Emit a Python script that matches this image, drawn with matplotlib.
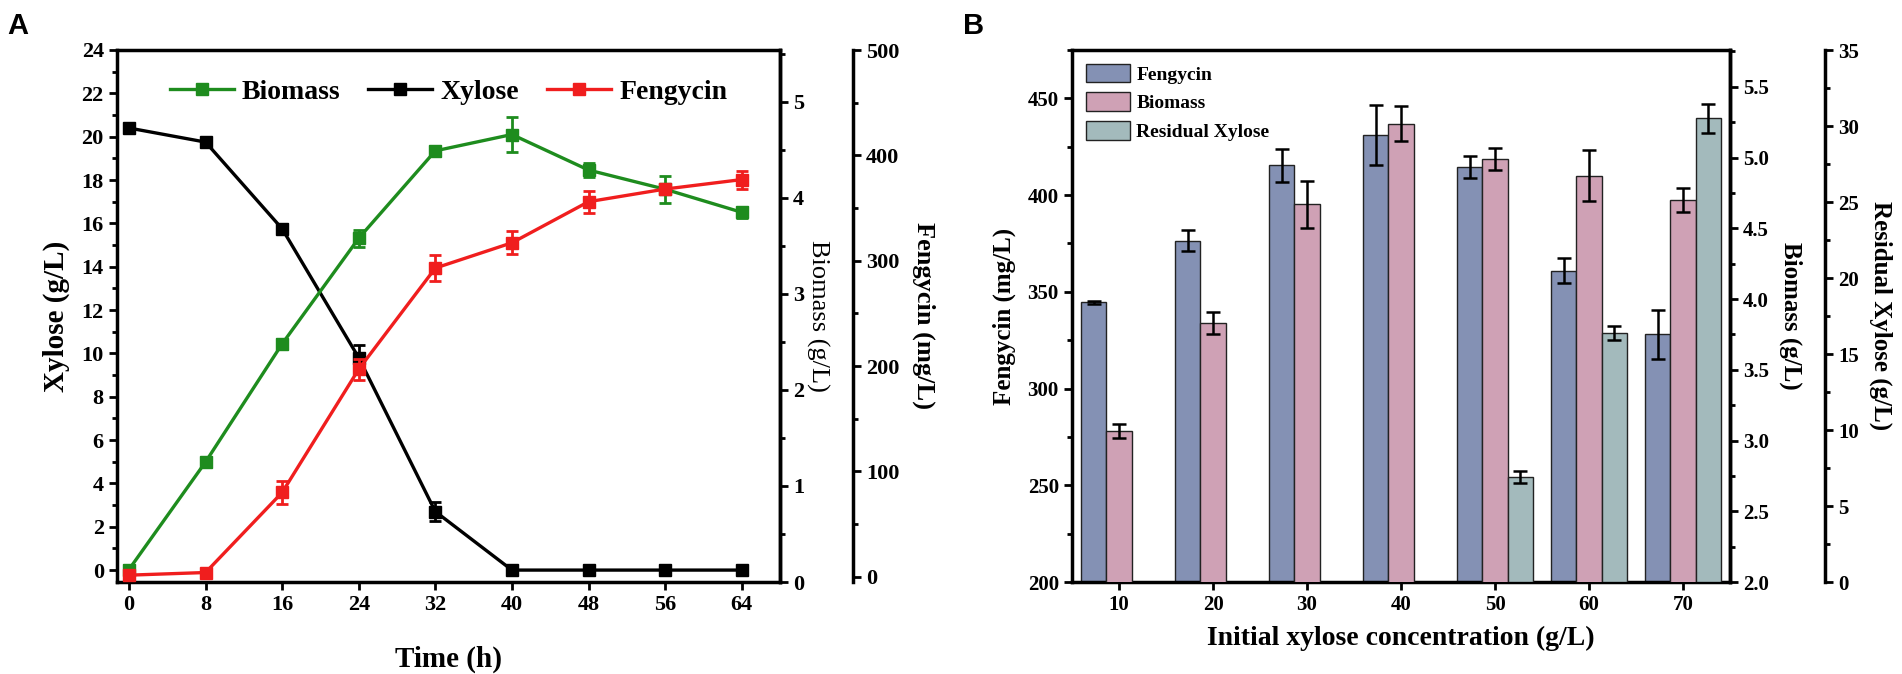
import numpy as np
import matplotlib
matplotlib.use("Agg")
from matplotlib import pyplot as plt
from matplotlib.ticker import MultipleLocator
from matplotlib.patches import Patch
from matplotlib.lines import Line2D

# panel A: time course
time_h = [0, 8, 16, 24, 32, 40, 48, 56, 64]
xylose = [20.4, 19.75, 15.75, 9.8, 2.7, 0.0, 0.0, 0.0, 0.0]
xylose_err = [0.1, 0.1, 0.2, 0.6, 0.45, 0.05, 0.05, 0.05, 0.05]
biomass = [0.13, 1.25, 2.48, 3.58, 4.49, 4.66, 4.29, 4.09, 3.85]
biomass_err = [0.05, 0.05, 0.05, 0.09, 0.05, 0.18, 0.07, 0.14, 0.06]
fengycin = [1.5, 4, 80, 197, 293, 317, 356, 368, 377]
fengycin_err = [1, 2, 11, 10, 12.5, 11, 10.5, 5, 8.5]

# panel B: initial xylose concentration
conc = [10, 20, 30, 40, 50, 60, 70]
fengycin_b = [344.5, 376.5, 415.3, 431, 414.5, 361, 328]
fengycin_b_err = [1, 5.3, 8.3, 15.5, 5.6, 6.5, 12.7]
biomass_b = [3.07, 3.83, 4.67, 5.24, 4.99, 4.87, 4.70]
biomass_b_err = [0.05, 0.08, 0.165, 0.125, 0.075, 0.18, 0.085]
residual_conc = [50, 60, 70]
residual_b = [6.9, 16.4, 30.5]
residual_b_err = [0.37, 0.45, 0.93]

GREEN = "#1e8c1e"
RED = "#f01e1e"
C_FENG = "#8491b4"
C_BIO = "#cfa1b5"
C_RES = "#a3babc"

plt.rcParams["font.family"] = ["Liberation Serif", "DejaVu Serif"]
plt.rcParams["font.weight"] = "bold"
plt.rcParams["axes.labelweight"] = "bold"
plt.rcParams["axes.linewidth"] = 2.5


def style_ticks(ax, size):
    ax.tick_params(which="major", direction="out", length=6, width=2,
                   labelsize=size)
    ax.tick_params(which="minor", direction="out", length=3.5, width=2)


fig = plt.figure(figsize=(19.02, 6.74), dpi=100)

# ---------------- A ----------------
ax = fig.add_axes([117 / 1902, 92 / 674, 663 / 1902, 532 / 674])
ax_bio = ax.twinx()
ax_fen = ax.twinx()
ax_fen.spines["right"].set_position(("axes", 1 + 73 / 663))
for a in (ax_bio, ax_fen):
    a.spines["top"].set_visible(False)
    a.spines["left"].set_visible(False)
    a.spines["bottom"].set_visible(False)

mk = dict(marker="s", markersize=8, lw=2.4, capsize=4, elinewidth=2,
          capthick=2)
ax.errorbar(time_h, xylose, yerr=xylose_err, color="black", zorder=3, **mk)
ax_bio.errorbar(time_h, biomass, yerr=biomass_err, color=GREEN, **mk)
ax_fen.errorbar(time_h, fengycin, yerr=fengycin_err, color=RED, **mk)

ax.set_xlim(-1.25, 68)
ax.set_ylim(-0.55, 24)
ax_bio.set_ylim(0, 5.54)
ax_fen.set_ylim(-5, 500)
ax.set_xticks(time_h)
ax.yaxis.set_major_locator(MultipleLocator(2))
ax.yaxis.set_minor_locator(MultipleLocator(1))
ax_bio.yaxis.set_major_locator(MultipleLocator(1))
ax_bio.yaxis.set_minor_locator(MultipleLocator(0.5))
ax_fen.yaxis.set_major_locator(MultipleLocator(100))
ax_fen.yaxis.set_minor_locator(MultipleLocator(50))
for a in (ax, ax_bio, ax_fen):
    style_ticks(a, 16)

ax.set_xlabel("Time (h)", fontsize=21, labelpad=22)
ax.set_ylabel("Xylose (g/L)", fontsize=21, labelpad=8)
ax_bio.set_ylabel("Biomass (g/L)", fontsize=19, fontweight="normal",
                  rotation=270, labelpad=18)
ax_fen.set_ylabel("Fengycin (mg/L)", fontsize=19, rotation=270,
                  labelpad=26)

handles_a = [
    Line2D([], [], color=GREEN, marker="s", markersize=8, lw=2.4),
    Line2D([], [], color="black", marker="s", markersize=8, lw=2.4),
    Line2D([], [], color=RED, marker="s", markersize=8, lw=2.4),
]
ax_fen.legend(handles_a, ["Biomass", "Xylose", "Fengycin"], loc="center",
              bbox_to_anchor=(0.5, 0.921), ncol=3, frameon=False,
              fontsize=20, handlelength=2.3, handletextpad=0.3,
              columnspacing=1.0)

fig.text(7 / 1902, 1 - 12 / 674, "A", fontsize=21, fontweight="bold",
         family="Liberation Sans", va="top", ha="left")

# ---------------- B ----------------
bx = fig.add_axes([1072 / 1902, 92 / 674, 658 / 1902, 532 / 674])
bx_bio = bx.twinx()
bx_res = bx.twinx()
bx_res.spines["right"].set_position(("axes", 1 + 95 / 658))
for a in (bx_bio, bx_res):
    a.spines["top"].set_visible(False)
    a.spines["left"].set_visible(False)
    a.spines["bottom"].set_visible(False)

w = 2.66
x = np.array(conc, dtype=float)
xr = np.array(residual_conc, dtype=float)
ebar = dict(ecolor="black", capsize=5, error_kw=dict(elinewidth=1.8,
                                                       capthick=1.8))
bx.bar(x - w, fengycin_b, width=w, color=C_FENG, edgecolor="#222222",
       linewidth=1, yerr=fengycin_b_err, **ebar)
bx_bio.bar(x, biomass_b, width=w, color=C_BIO, edgecolor="#222222",
           linewidth=1, yerr=biomass_b_err, **ebar)
bx_res.bar(xr + w, residual_b, width=w, color=C_RES, edgecolor="#222222",
           linewidth=1, yerr=residual_b_err, **ebar)

bx.set_xlim(5, 75)
bx.set_ylim(200, 475)
bx_bio.set_ylim(2.0, 5.76)
bx_res.set_ylim(0, 35)
bx.set_xticks(conc)
bx.yaxis.set_major_locator(MultipleLocator(50))
bx.yaxis.set_minor_locator(MultipleLocator(25))
bx_bio.yaxis.set_major_locator(MultipleLocator(0.5))
bx_bio.yaxis.set_minor_locator(MultipleLocator(0.25))
bx_bio.yaxis.set_major_formatter("{x:.1f}")
bx_res.yaxis.set_major_locator(MultipleLocator(5))
bx_res.yaxis.set_minor_locator(MultipleLocator(2.5))
for a in (bx, bx_bio, bx_res):
    style_ticks(a, 15)

bx.set_xlabel("Initial xylose concentration (g/L)", fontsize=20,
              labelpad=8)
bx.set_ylabel("Fengycin (mg/L)", fontsize=18, labelpad=8)
bx_bio.set_ylabel("Biomass (g/L)", fontsize=18, rotation=270, labelpad=24)
bx_res.set_ylabel("Residual Xylose (g/L)", fontsize=18, rotation=270,
                  labelpad=24)

handles_b = [
    Patch(facecolor=C_FENG, edgecolor="#222222", linewidth=1),
    Patch(facecolor=C_BIO, edgecolor="#222222", linewidth=1),
    Patch(facecolor=C_RES, edgecolor="#222222", linewidth=1),
]
bx_res.legend(handles_b, ["Fengycin", "Biomass", "Residual Xylose"],
              loc="upper left", frameon=False, fontsize=14,
              handlelength=2.3, handleheight=1.1, labelspacing=0.45,
              handletextpad=0.3, borderaxespad=0.3)

fig.text(963 / 1902, 1 - 12 / 674, "B", fontsize=21, fontweight="bold",
         family="Liberation Sans", va="top", ha="left")

fig.savefig("out.png", dpi=100)
